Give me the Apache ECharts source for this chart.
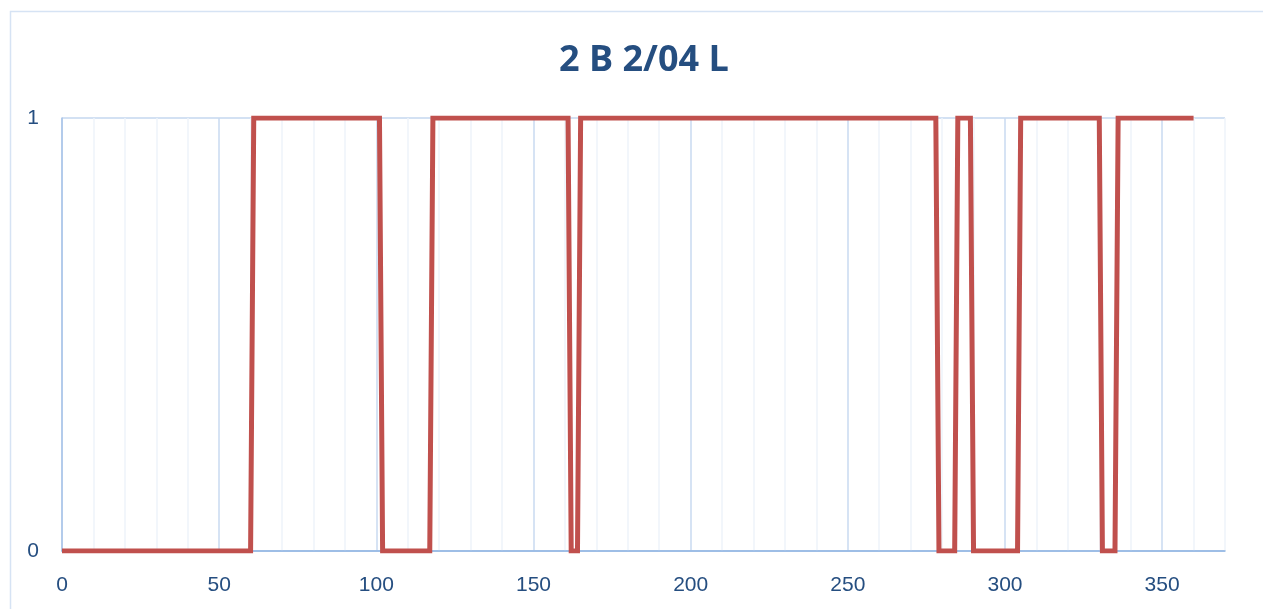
<!DOCTYPE html>
<html>
<head>
<meta charset="utf-8">
<script src="https://cdn.jsdelivr.net/npm/echarts@6/dist/echarts.min.js"></script>
<style>
html,body{margin:0;padding:0;background:#fff;}
#chart{width:1263px;height:609px;}
</style>
</head>
<body>
<div id="chart"></div>
<script>
const chartTitle = '2 B 2/04 L';
const xValues = [0, 60, 61, 101, 102, 117, 118, 161, 162, 164, 165, 278, 279, 284, 285, 289, 290, 304, 305, 330, 331, 335, 336, 360];
const yValues = [0, 0, 1, 1, 0, 0, 1, 1, 0, 0, 1, 1, 0, 0, 1, 1, 0, 0, 1, 1, 0, 0, 1, 1];
const xTickLabels = [0, 50, 100, 150, 200, 250, 300, 350];
const yTickLabels = [0, 1];

const points = xValues.map((x, i) => [x, yValues[i]]);
const labelColor = '#254E80';
const font = 'Liberation Sans';

const chart = echarts.init(document.getElementById('chart'));
chart.setOption({
  animation: false,
  backgroundColor: '#ffffff',
  title: {
    text: chartTitle,
    left: 554,
    top: 38,
    textStyle: { fontFamily: 'Open Sans', fontSize: 36, fontWeight: 'bold', color: labelColor }
  },
  graphic: [{
    type: 'rect',
    shape: { x: 10.5, y: 11.5, width: 1400, height: 800 },
    style: { fill: 'none', stroke: '#D6E3F4', lineWidth: 1.5 },
    silent: true
  }],
  grid: { left: 62, right: 38, top: 118, bottom: 58 },
  xAxis: {
    type: 'value',
    min: 0,
    max: 370,
    interval: 10,
    axisLine: { show: true, onZero: false, lineStyle: { color: '#8DB3E2', width: 1.5 } },
    axisTick: { show: false },
    axisLabel: {
      margin: 24,
      color: labelColor,
      fontFamily: font,
      fontSize: 21,
      showMaxLabel: false,
      formatter: function (v) { return xTickLabels.indexOf(v) >= 0 ? String(v) : ''; }
    },
    splitLine: {
      show: true,
      lineStyle: { color: ['#C9DAF0', '#EEF3FA', '#EEF3FA', '#EEF3FA', '#EEF3FA'], width: 1.5 }
    }
  },
  yAxis: {
    type: 'value',
    min: 0,
    max: 1,
    interval: 1,
    axisLine: { show: true, lineStyle: { color: '#A7C3E8', width: 1.5 } },
    axisTick: { show: false },
    axisLabel: {
      margin: 23,
      color: labelColor,
      fontFamily: font,
      fontSize: 21,
      formatter: function (v) { return yTickLabels.indexOf(v) >= 0 ? String(v) : ''; }
    },
    splitLine: { show: true, lineStyle: { color: '#D3E1F3', width: 2 } }
  },
  series: [{
    type: 'line',
    data: points,
    showSymbol: false,
    symbol: 'none',
    lineStyle: { color: '#C0504D', width: 5, join: 'miter' },
    z: 5
  }]
});
</script>
</body>
</html>
